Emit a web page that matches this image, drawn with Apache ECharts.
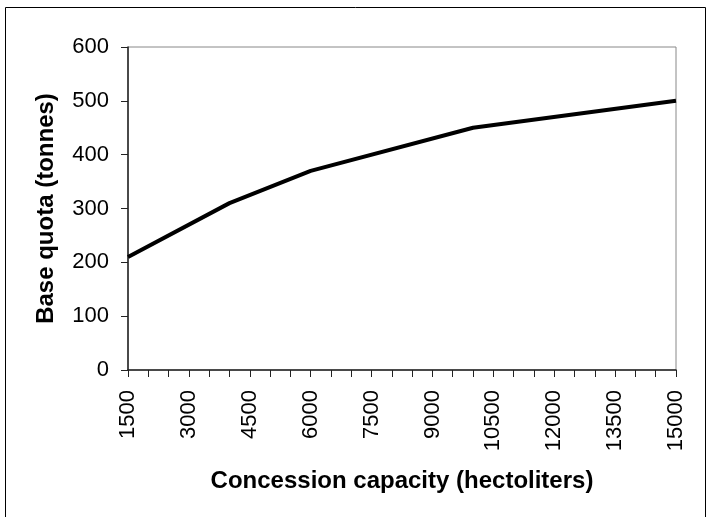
<!DOCTYPE html>
<html>
<head>
<meta charset="utf-8">
<script src="https://cdn.jsdelivr.net/npm/echarts@6/dist/echarts.min.js"></script>
<style>html,body{margin:0;padding:0;background:#fff;}#c{width:711px;height:517px;}</style>
</head>
<body>
<div id="c"></div>
<script>
// Concession capacity (hectoliters) at breakpoints
const capacity = [1500, 4000, 6000, 10000, 15000];
// Base quota (tonnes)
const quota = [210, 310, 370, 450, 500];
const xTickStart = 1500, xTickEnd = 15000, xTickStep = 500, xLabelStep = 1500;
const yTicks = [0, 100, 200, 300, 400, 500, 600];

const chart = echarts.init(document.getElementById('c'));
const font = 'Liberation Sans, Arial, sans-serif';
chart.setOption({
  animation: false,
  backgroundColor: '#fff',
  graphic: [{
    type: 'rect', shape: {x: 5.5, y: 7.5, width: 700, height: 520},
    style: {fill: 'none', stroke: '#000', lineWidth: 1}, z: -1
  }],
  grid: {left: 128, right: 35, top: 47, bottom: 147, show: true,
         borderColor: '#888', borderWidth: 1},
  xAxis: {
    type: 'value', min: xTickStart, max: xTickEnd, interval: xTickStep,
    name: 'Concession capacity (hectoliters)', nameLocation: 'middle', nameGap: 99,
    nameTextStyle: {fontFamily: font, fontSize: 24, fontWeight: 'bold', color: '#000'},
    axisLine: {lineStyle: {color: '#222', width: 1.5}},
    axisTick: {length: 7, lineStyle: {color: '#222'}},
    axisLabel: {rotate: 90, margin: 20, fontFamily: font, fontSize: 22, color: '#000',
      showMinLabel: true, showMaxLabel: true,
      formatter: v => ((v - xTickStart) % xLabelStep === 0 ? String(v) : '')},
    splitLine: {show: false}
  },
  yAxis: {
    type: 'value', min: yTicks[0], max: yTicks[yTicks.length - 1], interval: 100,
    name: 'Base quota (tonnes)', nameLocation: 'middle', nameGap: 70,
    nameTextStyle: {fontFamily: font, fontSize: 24, fontWeight: 'bold', color: '#000'},
    axisLine: {show: true, lineStyle: {color: '#222', width: 1.5}},
    axisTick: {show: true, length: 7, lineStyle: {color: '#222'}},
    axisLabel: {margin: 19, fontFamily: font, fontSize: 22, color: '#000'},
    splitLine: {show: false}
  },
  series: [{
    type: 'line', data: capacity.map((c, i) => [c, quota[i]]),
    symbol: 'none', lineStyle: {color: '#000', width: 4}
  }]
});
</script>
</body>
</html>
